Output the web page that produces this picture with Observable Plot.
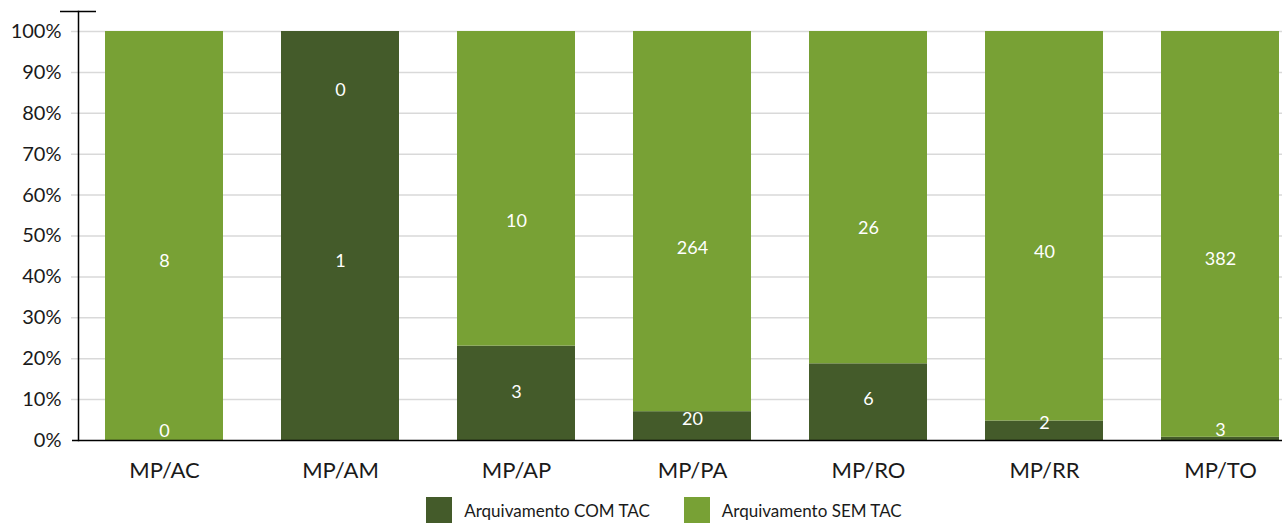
<!DOCTYPE html>
<html>
<head>
<meta charset="utf-8">
<script src="https://cdn.jsdelivr.net/npm/d3@7"></script>
<script src="https://cdn.jsdelivr.net/npm/@observablehq/plot@0.6"></script>
<style>
  html, body { margin: 0; padding: 0; background: #fff; }
  body { width: 1282px; height: 523px; overflow: hidden; font-family: Lato, "Open Sans", sans-serif; }
  #legend { display: flex; justify-content: center; align-items: center; padding-left: 46px; margin-top: 7px; gap: 34px; }
  .item { display: flex; align-items: center; gap: 12px; font-size: 17px; color: #1a1a1a; }
  .sw { width: 26px; height: 26px; display: inline-block; }
</style>
</head>
<body>
<div id="chart"></div>
<div id="legend"></div>
<script>
const categories = ["MP/AC", "MP/AM", "MP/AP", "MP/PA", "MP/RO", "MP/RR", "MP/TO"];
const comTAC = [0, 1, 3, 20, 6, 2, 3];
const semTAC = [8, 0, 10, 264, 26, 40, 382];
const seriesNames = ["Arquivamento COM TAC", "Arquivamento SEM TAC"];
const seriesColors = ["#445b2a", "#78a135"];

// build normalized stacked rows
const rows = [];
categories.forEach((cat, i) => {
  const total = comTAC[i] + semTAC[i];
  const a = comTAC[i] / total;
  rows.push({cat, series: seriesNames[0], value: comTAC[i], y1: 0, y2: a});
  rows.push({cat, series: seriesNames[1], value: semTAC[i], y1: a, y2: 1});
});

const W = 1282, H = 490;
const chart = Plot.plot({
  width: W,
  height: H,
  marginLeft: 78,
  marginRight: 0,
  marginTop: 11,
  marginBottom: 50,
  style: {fontFamily: "Lato, 'Open Sans', sans-serif", fontSize: "20px", color: "#1a1a1a", background: "#fff"},
  x: {domain: categories, range: [72, 1311], paddingInner: 0.33, paddingOuter: 0.1816, label: null},
  y: {domain: [0, 1], range: [440, 31], label: null},
  color: {domain: seriesNames, range: seriesColors},
  marks: [
    Plot.ruleY(d3.range(1, 11).map(d => d / 10), {stroke: "#d9d9d9", strokeWidth: 1.5, insetLeft: -7}),
    Plot.barY(rows, {x: "cat", y1: "y1", y2: "y2", fill: "series"}),
    Plot.text(rows, {
      x: "cat",
      y: d => 0.022 + 0.835 * (d.y1 + d.y2) / 2,
      text: d => String(d.value),
      fill: "#ffffff",
      fontSize: 18
    }),
    Plot.axisX({tickSize: 0, tickPadding: 22, fontSize: 22, label: null}),
    Plot.axisY({ticks: 10, tickFormat: d3.format(".0%"), tickSize: 0, tickPadding: 17, fontSize: 20, label: null}),
    Plot.ruleY([0], {stroke: "#000", strokeWidth: 1.5, insetLeft: -6}),
    Plot.frame({anchor: "left", stroke: "#000", strokeWidth: 1.5}),
    Plot.ruleY([1], {dy: -20, stroke: "#000", strokeWidth: 1.5, insetLeft: -18, insetRight: 1186})
  ]
});
document.getElementById("chart").appendChild(chart);

const legend = document.getElementById("legend");
seriesNames.forEach((name, i) => {
  const it = document.createElement("div");
  it.className = "item";
  const sw = document.createElement("span");
  sw.className = "sw";
  sw.style.background = seriesColors[i];
  const t = document.createElement("span");
  t.textContent = name;
  it.appendChild(sw);
  it.appendChild(t);
  legend.appendChild(it);
});
</script>
</body>
</html>
